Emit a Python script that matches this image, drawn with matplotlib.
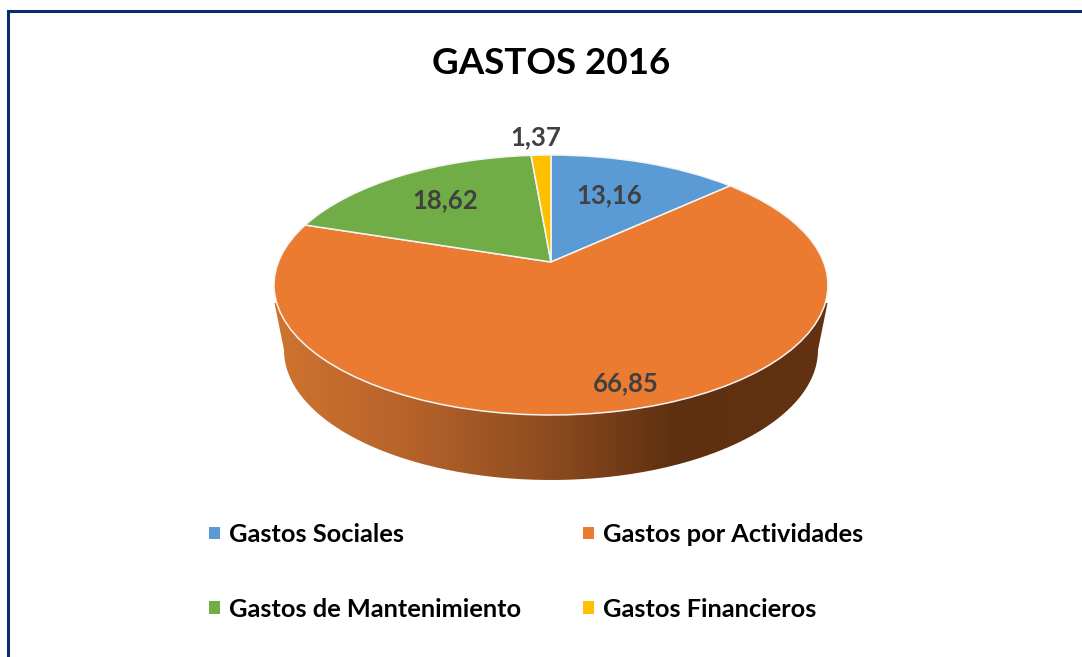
import numpy as np
import matplotlib
matplotlib.use("Agg")
import matplotlib.pyplot as plt
from matplotlib.colors import LinearSegmentedColormap
from matplotlib.patches import PathPatch
from matplotlib.path import Path
from matplotlib.transforms import Transform

plt.rcParams['font.family'] = ['Lato', 'DejaVu Sans']

# data
categories = ["Gastos Sociales", "Gastos por Actividades", "Gastos de Mantenimiento", "Gastos Financieros"]
values = [13.16, 66.85, 18.62, 1.37]
colors = ["#5B9BD5", "#EA7B31", "#70AD47", "#FFC000"]
title = "GASTOS 2016"

# where the value labels sit, in pixels
label_pos = [(609, 195), (626, 383), (445, 200), (536, 137)]

# shape of the tilted pie, in pixels
cx, cy, rx, ry = 551, 285, 277, 130
apex_shift = 23
tilt = apex_shift / (2 * ry) * 2
scale_x = 272.6
wall_drop = 65
wall_rx = 267


class TiltedPie(Transform):
    # perspective view of the unit circle that ax.pie draws
    input_dims = 2
    output_dims = 2

    def transform_non_affine(self, values):
        xy = np.asarray(values)
        d = 1 + tilt * xy[:, 1]
        x = cx + scale_x * xy[:, 0] / d
        y = cy - (ry * xy[:, 1] + apex_shift) / d
        return np.column_stack([x, y])


fig = plt.figure(figsize=(10.82, 6.57), dpi=100)
ax = fig.add_axes([0, 0, 1, 1])

wedges, _ = ax.pie(values, colors=colors, startangle=90, counterclock=False,
                   wedgeprops={"edgecolor": "#F4F4F4", "linewidth": 1.1})
tilted = TiltedPie() + ax.transData
for w in wedges:
    w.set_transform(tilted)
    w.set_zorder(3)

ax.set_aspect("auto")
ax.set_xlim(0, 1082)
ax.set_ylim(657, 0)
ax.axis("off")

# side wall of the pie with its left-to-right shading
t = np.linspace(np.pi, 0, 200)
wall_x = cx + wall_rx * np.cos(t)
wall_y = cy + wall_drop + ry * np.sin(t)
wall_verts = np.column_stack([
    np.r_[cx - rx + 0.5, wall_x, cx + rx - 0.5, cx],
    np.r_[cy + 18, wall_y, cy + 18, cy],
])
wall = PathPatch(Path(wall_verts), facecolor="none", edgecolor="none", transform=ax.transData)
ax.add_patch(wall)
wall_cmap = LinearSegmentedColormap.from_list("wall", [
    (0.0, "#CF7430"), (0.25, "#B5622A"), (0.5, "#8C4B1F"),
    (0.72, "#5F3010"), (1.0, "#623212"),
])
shade = ax.imshow(np.linspace(0, 1, 256)[None, :], cmap=wall_cmap, aspect="auto",
                  extent=(cx - rx, cx + rx, cy + wall_drop + ry, cy), zorder=1)
shade.set_clip_path(wall)
ax.set_xlim(0, 1082)
ax.set_ylim(657, 0)

# value labels
for v, (lx, ly) in zip(values, label_pos):
    ax.text(lx, ly, f"{v:.2f}".replace(".", ","), ha="center", va="center",
            fontsize=18.5, fontweight="bold", color="#404040", zorder=5)

ax.text(551, 63, title, ha="center", va="center", fontsize=26.5, fontweight="bold", color="black")

# outer frame, only top and left are in the crop
ax.plot([8, 8, 1082], [657, 11, 11], color="#0B2A6F", lw=2.2, solid_joinstyle="miter", zorder=6)

# legend, matplotlib fills by column so reorder the entries
order = [0, 2, 1, 3]
leg = ax.legend([wedges[i] for i in order], [categories[i] for i in order],
                ncols=2, frameon=False, loc="upper left",
                bbox_to_anchor=(209, 523), bbox_transform=ax.transData,
                prop={"weight": "bold", "size": 18.3},
                handlelength=0.42, handleheight=0.36, handletextpad=0.36,
                labelspacing=2.03, columnspacing=2.45, borderaxespad=0, borderpad=0)
for h in leg.legend_handles:
    h.set_edgecolor("none")

fig.savefig("out.png", dpi=100)
